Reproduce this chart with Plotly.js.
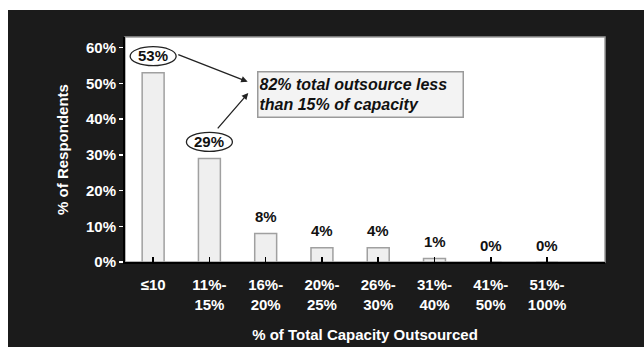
<!DOCTYPE html>
<html>
<head>
<meta charset="utf-8">
<script src="https://cdn.plot.ly/plotly-3.0.1.min.js"></script>
<style>
  html, body { margin: 0; padding: 0; background: #1b1b1b; overflow: hidden; width: 644px; height: 347px; }
  #chart { position: absolute; left: 8px; top: 10px; width: 636px; height: 337px; }
  #stripTop { position: absolute; left: 0; top: 0; width: 644px; height: 10px; background: #ffffff; }
  #stripLeft { position: absolute; left: 0; top: 0; width: 8px; height: 347px; background: #ffffff; }
</style>
</head>
<body>
<div id="chart"></div>
<div id="stripTop"></div>
<div id="stripLeft"></div>
<script>
// ---- data ----
const categories = ["≤10", "11%-<br>15%", "16%-<br>20%", "20%-<br>25%", "26%-<br>30%", "31%-<br>40%", "41%-<br>50%", "51%-<br>100%"];
const values = [53, 29, 8, 4, 4, 1, 0, 0];
const circled = [true, true, false, false, false, false, false, false];
const yTickVals = [0, 10, 20, 30, 40, 50, 60];
const yTickText = ["0%", "10%", "20%", "30%", "40%", "50%", "60%"];
const calloutText = "<b><i>82% total outsource less<br>than 15% of capacity</i></b>";
const xTitle = "% of Total Capacity Outsourced";
const yTitle = "% of Respondents";

const FONT = "Liberation Sans, Arial, Helvetica, sans-serif";

const trace = {
  type: "bar",
  x: categories.map((c, i) => i),
  y: values,
  width: 0.39,
  marker: { color: "#efefef", line: { color: "#a0a0a0", width: 1.5 } },
  hoverinfo: "skip"
};

const annotations = values.map((v, i) => ({
  x: i, y: v, xref: "x", yref: "y",
  text: "<b>" + v + "%</b>",
  showarrow: false,
  yanchor: "middle",
  yshift: 17,
  font: { family: FONT, size: 15, color: "#111111" }
}));

// callout box
annotations.push({
  x: 3.69, y: 46.8, xref: "x", yref: "y",
  text: calloutText, showarrow: false, align: "left",
  width: 202, height: 42,
  bgcolor: "#f3f3f3", bordercolor: "#9a9a9a", borderwidth: 1.5, borderpad: 1,
  font: { family: FONT, size: 16, color: "#111111" }
});
// arrows
annotations.push({
  x: 1.68, y: 50.5, ax: 0.42, ay: 58.2, xref: "x", yref: "y", axref: "x", ayref: "y",
  text: "", showarrow: true, arrowhead: 2, arrowsize: 1, arrowwidth: 1.3, arrowcolor: "#222222"
});
annotations.push({
  x: 1.69, y: 47.3, ax: 1.125, ay: 37.0, xref: "x", yref: "y", axref: "x", ayref: "y",
  text: "", showarrow: true, arrowhead: 2, arrowsize: 1, arrowwidth: 1.3, arrowcolor: "#222222"
});

const shapes = [];
values.forEach((v, i) => {
  if (circled[i]) {
    shapes.push({
      type: "circle", xref: "x", yref: "y",
      xsizemode: "pixel", ysizemode: "pixel",
      xanchor: i, yanchor: v,
      x0: -23, x1: 23, y0: 7, y1: 26,
      line: { color: "#222222", width: 1.3 }, fillcolor: "rgba(0,0,0,0)"
    });
  }
});
// light frame of plot area
shapes.push({
  type: "rect", xref: "paper", yref: "paper", x0: 0, x1: 1, y0: 0, y1: 1,
  line: { color: "#9a9a9a", width: 1.5 }, layer: "below"
});

const layout = {
  width: 636, height: 337,
  paper_bgcolor: "#1b1b1b",
  plot_bgcolor: "#ffffff",
  margin: { l: 117, r: 39, t: 27, b: 84.5 },
  showlegend: false,
  xaxis: {
    range: [-0.5, 8.03],
    tickmode: "array",
    tickvals: categories.map((c, i) => i),
    ticktext: categories,
    showgrid: false, zeroline: false,
    showline: true, linecolor: "#000000", linewidth: 2,
    ticks: "inside", ticklen: 5, tickwidth: 1.5, tickcolor: "#000000",
    tickson: "boundaries",
    ticklabelstandoff: 8,
    tickfont: { family: FONT, size: 15, color: "#ffffff", weight: "bold" },
    title: { text: "<b>" + xTitle + "</b>", standoff: 18,
             font: { family: FONT, size: 15, color: "#ffffff" } },
    fixedrange: true
  },
  yaxis: {
    range: [0, 63],
    tickmode: "array", tickvals: yTickVals, ticktext: yTickText,
    showgrid: false, zeroline: false,
    showline: true, linecolor: "#000000", linewidth: 2,
    ticks: "outside", ticklen: 4, tickwidth: 1.5, tickcolor: "#ffffff",
    tickfont: { family: FONT, size: 15, color: "#ffffff", weight: "bold" },
    title: { text: "<b>" + yTitle + "</b>", standoff: 14,
             font: { family: FONT, size: 15, color: "#ffffff" } },
    fixedrange: true
  },
  annotations: annotations,
  shapes: shapes,
  font: { family: FONT }
};

Plotly.newPlot("chart", [trace], layout, { displayModeBar: false, staticPlot: true });
</script>
</body>
</html>
